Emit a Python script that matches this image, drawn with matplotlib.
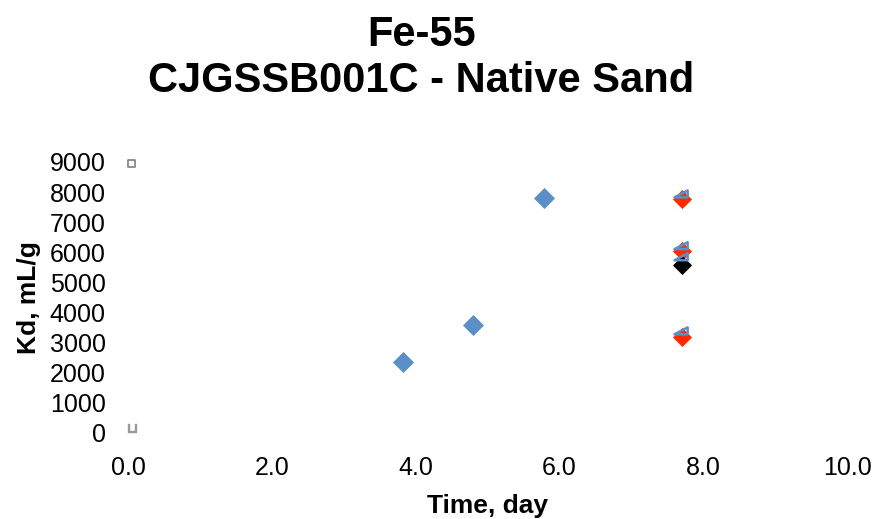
import matplotlib
matplotlib.use("Agg")
import matplotlib.pyplot as plt
from matplotlib.path import Path

plt.rcParams['font.family'] = ['Liberation Sans', 'DejaVu Sans']

# Data
blue_x = [3.82, 4.80, 5.79]
blue_y = [2360, 3590, 7800]

red_x = [7.71, 7.71, 7.71]
red_y = [7770, 6050, 3190]

black_x = [7.71]
black_y = [5580]

tri_x = [7.69, 7.69, 7.69, 7.69]
tri_y = [7900, 6180, 5810, 3350]

ghost_x = [0.05, 0.05]
ghost_y = [8940, 165]

xticks = [0, 2, 4, 6, 8, 10]
yticks = list(range(0, 10000, 1000))

fig = plt.figure(figsize=(8.77, 5.19), dpi=100)
ax = fig.add_axes([0.146, 0.166, 0.820, 0.522])

tri_marker = Path([(-1, -0.35), (1, -0.35), (1, 0.7), (-1, -0.35)],
                  [Path.MOVETO, Path.LINETO, Path.LINETO, Path.CLOSEPOLY])

ax.scatter(blue_x, blue_y, marker='D', s=115, color='#5b8fc7', zorder=3, linewidths=0)
ax.scatter(red_x, red_y, marker='D', s=95, color='#ff2a00', zorder=3, linewidths=0)
ax.scatter(black_x, black_y, marker='D', s=95, color='#000000', zorder=3, linewidths=0)
ax.scatter(tri_x, tri_y, marker=tri_marker, s=90, facecolors='none',
           edgecolors='#5b8fc7', linewidths=1.8, zorder=4)
ax.scatter(ghost_x[:1], ghost_y[:1], marker='s', s=28, facecolors='none',
           edgecolors='#888888', linewidths=1.3, zorder=2, clip_on=False)
ax.scatter(ghost_x[1:], ghost_y[1:], marker='$\\sqcup$', s=40, color='#999999',
           zorder=2, clip_on=False)

ax.set_xlim(0, 10)
ax.set_ylim(0, 9000)
ax.set_xticks(xticks)
ax.set_xticklabels([f"{v:.1f}" for v in xticks])
ax.set_yticks(yticks)
ax.set_yticklabels([str(v) for v in yticks])
ax.tick_params(axis='both', length=0, labelsize=18)
ax.tick_params(axis='y', pad=16)
ax.tick_params(axis='x', pad=17)
for s in ax.spines.values():
    s.set_visible(False)

ax.set_xlabel('Time, day', fontsize=19, fontweight='bold', labelpad=10)
ax.set_ylabel('Kd, mL/g', fontsize=19, fontweight='bold', labelpad=6)
fig.text(0.4806, 0.888, 'Fe-55\nCJGSSB001C - Native Sand', ha='center', va='center',
         fontsize=30, fontweight='bold', linespacing=1.2)

fig.savefig('out.png', dpi=100)
